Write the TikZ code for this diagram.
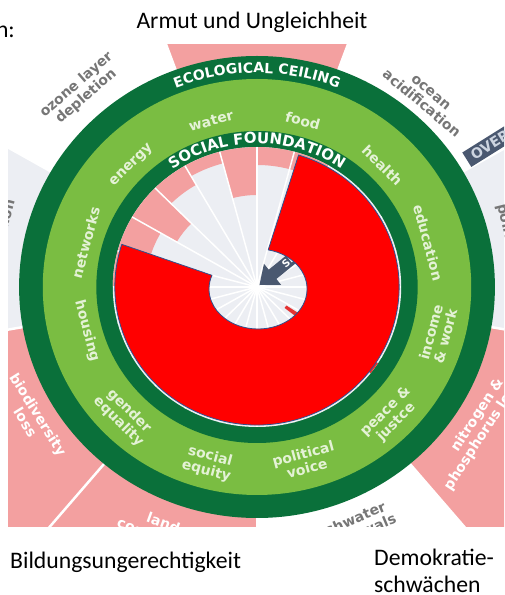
\documentclass[tikz,border=0pt]{standalone}
\usepackage{fontspec}
\setmainfont{Carlito}
\newfontfamily\dnfont{DejaVu Sans}
\usetikzlibrary{arrows.meta,decorations.text}

\definecolor{ringdark}{RGB}{10,112,58}
\definecolor{ringlight}{RGB}{122,189,66}
\definecolor{overpink}{RGB}{243,160,160}
\definecolor{palegrey}{RGB}{236,238,243}
\definecolor{labelgrey}{RGB}{118,118,118}
\definecolor{ringtext}{RGB}{228,242,214}
\definecolor{slate}{RGB}{74,88,112}
\definecolor{barfont}{RGB}{205,212,224}
\definecolor{shortred}{RGB}{228,50,50}
\definecolor{redline}{RGB}{47,82,143}

\newcommand{\ceilfont}{\dnfont\bfseries\fontsize{14}{14}\selectfont\color{white}}
\newcommand{\foundfont}{\dnfont\bfseries\fontsize{15}{15}\selectfont\color{white}}

\tikzset{
  caption/.style={font=\fontsize{23.7}{27}\selectfont, inner sep=0pt},
  ringlabel/.style={font=\dnfont\bfseries\fontsize{14}{15}\selectfont, text=ringtext, align=center, inner sep=0pt},
  outerlabel/.style={font=\dnfont\bfseries\fontsize{14}{15}\selectfont, text=labelgrey, align=center, inner sep=0pt},
  pinklabel/.style={outerlabel, text=white},
}

\begin{document}
\begin{tikzpicture}[x=1pt, y=1pt]
  \useasboundingbox (0,0) rectangle (504,595);
  \fill[white] (0,0) rectangle (504,595);

  % slide texts
  \node[caption, anchor=base] (armut) at (252,566) {Armut und Ungleichheit};
  \node[caption, anchor=base east] (cut) at (15,557) {n:};
  \node[caption, anchor=base west] (bildung) at (10,26) {Bildungsungerechtigkeit};
  \node[caption, anchor=base west] (demo) at (374,29) {Demokratie-};
  \node[caption, anchor=base west] (schw) at (374,2) {schwächen};

  \begin{scope}
    \clip (8,68) rectangle (504,550);
    \begin{scope}[shift={(257,308)}, xscale=1.03]
      % planetary boundaries
      \foreach \a/\b/\col in {70/110/overpink, 30/70/white, -10/30/palegrey,
          -50/-10/overpink, -90/-50/white, -130/-90/overpink,
          -170/-130/overpink, 150/190/palegrey, 110/150/white}
        \fill[\col] (0,0) -- (\a:420) arc[start angle=\a, end angle=\b, radius=420] -- cycle;
      \foreach \a in {-130,-90,-50,-10,30,70,110,150,190}
        \draw[white, line width=2.5pt] (0,0) -- (\a:420);

      \node[outerlabel, rotate=41] (ozone) at (131:260) {ozone layer\\depletion};
      \node[outerlabel, rotate=-40] (ocean) at (49:250) {ocean\\acidification};
      \node[outerlabel, rotate=-76, anchor=base west] (chem) at (19.4:247) {pollution};
      \node[pinklabel, rotate=57] (nitro) at (-31:257) {nitrogen \&\\phosphorus loading};
      \node[outerlabel, rotate=23] (fresh) at (-70:258) {freshwater\\withdrawals};
      \node[pinklabel, rotate=-20] (land) at (-111:260) {land\\conversion};
      \node[pinklabel, rotate=-58] (bio) at (-149:255) {biodiversity\\loss};
      \node[outerlabel, rotate=75, anchor=east] (air) at (160:254) {air pollution};

      \node[rotate=32, anchor=west, fill=slate, text=barfont, minimum height=17pt,
        inner xsep=6pt, inner ysep=0pt, font=\dnfont\bfseries\fontsize{14}{14}\selectfont]
        (over) at (32:240) {OVERSHOOT};

      % doughnut rings
      \fill[ringdark] (0,0) circle[radius=231];
      \fill[ringlight] (0,0) circle[radius=208];
      \fill[ringdark] (0,0) circle[radius=156];
      \fill[palegrey] (0,0) circle[radius=140];

      \path[white, decorate, decoration={text along path, text align=center,
          text={|\ceilfont|ECOLOGICAL CEILING}}]
        (125:214) arc[start angle=125, end angle=55, radius=214];
      \path[white, decorate, decoration={text along path, text align=center,
          text={|\foundfont|SOCIAL FOUNDATION}}]
        (140:143.5) arc[start angle=140, end angle=40, radius=143.5];

      \foreach \a/\txt in {105/water, 75/food, 45/health, 15/education, 135/energy, 165/networks}
        \node[ringlabel, rotate=\a-90] (soc\a) at (\a:172) {\txt};
      \foreach \a/\txt/\rad in {-15/{income\\\& work}/182, -45/{peace \&\\justce}/184,
          -75/{political\\voice}/180, -105/{social\\equity}/183,
          -135/{gender\\equality}/183, -165/housing/171}
        \node[ringlabel, rotate=\a+90] (soc\a) at (\a:\rad) {\txt};

      % shortfalls
      \foreach \a/\b/\r in {60/75/122, 75/90/122, 90/105/92, 105/120/128,
          120/135/118, 135/150/90, 150/165/108, 165/180/100}
        \fill[overpink] (\a:\r) arc[start angle=\a, end angle=\b, radius=\r]
          -- (\b:140) arc[start angle=\b, end angle=\a, radius=140] -- cycle;
      \fill[shortred] (-38:34) arc[start angle=-38, end angle=-33, radius=34]
        -- (-33:140) arc[start angle=-33, end angle=-38, radius=140] -- cycle;
      \foreach \a in {0,15,...,345}
        \draw[white, line width=1.5pt] (0,0) -- (\a:140);

      \draw[slate, line width=12pt, -{Triangle[length=17pt, width=26pt]}] (40:80) -- (40:3);
      \node[rotate=40, anchor=west, text=white, inner sep=0pt,
        font=\dnfont\bfseries\fontsize{10}{10}\selectfont] (sfall) at (40:33) {SHORTFALL};

      % red overlay
      \filldraw[fill=red, draw=redline, line width=0.8pt]
        (162:138) arc[start angle=162, end angle=433, radius=138]
        -- ([shift={(1,-2)}]78:47.6 and 40)
        arc[start angle=78, end angle=-200, x radius=47.6, y radius=40] -- cycle;
    \end{scope}
  \end{scope}
\end{tikzpicture}
\end{document}
